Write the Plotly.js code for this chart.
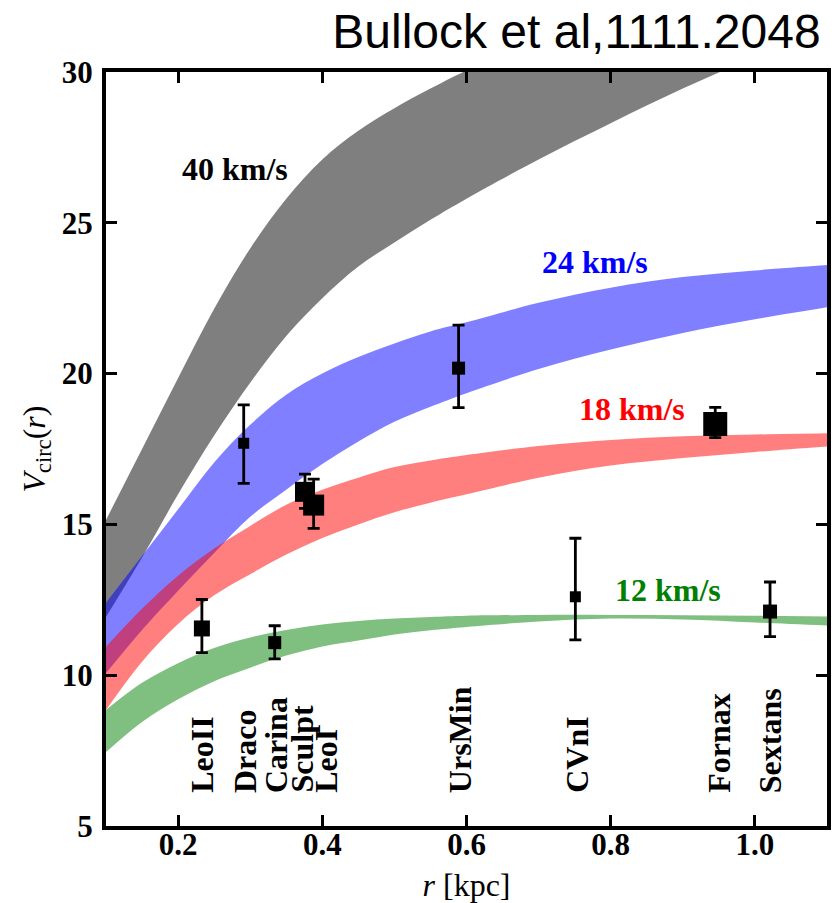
<!DOCTYPE html>
<html>
<head>
<meta charset="utf-8">
<script src="https://cdn.plot.ly/plotly-3.0.1.min.js"></script>
<style>html,body{margin:0;padding:0;background:#fff;}</style>
</head>
<body>
<div id="chart" style="width:834px;height:903px;"></div>
<script>
// radius grid for the bands [kpc]
const rGrid = [0.1, 0.15, 0.2, 0.25, 0.3, 0.35, 0.4, 0.45, 0.5, 0.55, 0.6, 0.7, 0.8, 0.9, 1.0, 1.1];

// 40 km/s band (grey)
const grayLower = [11.93, 13.9, 16.0, 17.95, 19.7, 21.25, 22.5, 23.55, 24.35, 25.1, 25.8, 27.1, 28.3, 29.45, 30.5, 31.5];
const grayUpper = [15.15, 17.5, 19.85, 22.15, 24.15, 25.8, 27.1, 28.05, 28.8, 29.45, 30.05, 31.1, 32.1, 33.0, 33.8, 34.5];
// 24 km/s band (blue)
const blueLower = [10.07, 11.5, 12.8, 14.05, 15.25, 16.15, 17.0, 17.75, 18.4, 18.9, 19.35, 20.15, 20.8, 21.35, 21.8, 22.2];
const blueUpper = [12.4, 13.95, 15.5, 17.05, 18.3, 19.3, 20.0, 20.55, 21.0, 21.4, 21.7, 22.35, 22.85, 23.2, 23.42, 23.6];
// 18 km/s band (red)
const redLower = [8.85, 10.45, 11.7, 12.65, 13.35, 14.0, 14.55, 15.0, 15.4, 15.72, 16.0, 16.55, 16.95, 17.2, 17.4, 17.58];
const redUpper = [10.94, 12.2, 13.3, 14.2, 14.95, 15.65, 16.15, 16.55, 16.9, 17.12, 17.3, 17.6, 17.8, 17.92, 17.98, 18.02];
// 12 km/s band (green)
const greenLower = [7.45, 8.45, 9.2, 9.8, 10.25, 10.65, 10.95, 11.15, 11.35, 11.49, 11.6, 11.78, 11.88, 11.85, 11.75, 11.65];
const greenUpper = [8.85, 9.75, 10.4, 10.9, 11.25, 11.5, 11.68, 11.8, 11.88, 11.93, 11.97, 12.0, 12.0, 11.99, 11.97, 11.95];

const bandLabels = ['40 km/s', '24 km/s', '18 km/s', '12 km/s'];
const bandLabelR = [0.279, 0.778, 0.829, 0.879];
const bandLabelV = [26.77, 23.7, 18.84, 12.82];
const bandLabelColors = ['#000000', '#0000ff', '#ff0000', '#008000'];

// dwarf spheroidals
const galaxies = ['LeoII', 'Draco', 'Carina', 'Sculpt', 'LeoI', 'UrsMin', 'CVnI', 'Fornax', 'Sextans'];
const rHalf = [0.233, 0.291, 0.334, 0.376, 0.388, 0.589, 0.751, 0.945, 1.021];
const vCirc = [11.55, 17.69, 11.08, 16.08, 15.64, 20.18, 12.6, 18.33, 12.11];
const errPlus = [0.96, 1.27, 0.56, 0.59, 0.86, 1.43, 1.94, 0.55, 0.98];
const errMinus = [0.80, 1.33, 0.54, 0.55, 0.77, 1.31, 1.43, 0.45, 0.83];
const markerSizes = [16, 11, 13, 20, 21, 13, 11, 24, 14];
const galaxyLabelR = [0.233, 0.293, 0.336, 0.372, 0.405, 0.592, 0.753, 0.95, 1.022];
const galaxyLabelV = 6.03;

const xTicks = [0.2, 0.4, 0.6, 0.8, 1.0];
const xTickText = ['0.2', '0.4', '0.6', '0.8', '1.0'];
const yTicks = [5, 10, 15, 20, 25, 30];

function band(lower, upper, color) {
  return [
    {x: rGrid, y: lower, mode: 'lines', line: {width: 0, shape: 'spline', smoothing: 1}, hoverinfo: 'skip', showlegend: false},
    {x: rGrid, y: upper, mode: 'lines', line: {width: 0, shape: 'spline', smoothing: 1}, fill: 'tonexty', fillcolor: color, hoverinfo: 'skip', showlegend: false}
  ];
}

const data = [].concat(
  band(grayLower, grayUpper, 'rgba(0,0,0,0.5)'),
  band(blueLower, blueUpper, 'rgba(0,0,255,0.5)'),
  band(redLower, redUpper, 'rgba(255,0,0,0.5)'),
  band(greenLower, greenUpper, 'rgba(0,128,0,0.5)'),
  [{
    x: rHalf, y: vCirc, text: galaxies, mode: 'markers', showlegend: false,
    marker: {symbol: 'square', color: '#000', opacity: 1, size: markerSizes, line: {width: 0}},
    error_y: {type: 'data', symmetric: false, array: errPlus, arrayminus: errMinus, color: '#000', thickness: 2.8, width: 6}
  }]
);

const serif = 'Liberation Serif, Times New Roman, serif';
const annotations = [];
bandLabels.forEach((t, i) => annotations.push({
  x: bandLabelR[i], y: bandLabelV[i], xref: 'x', yref: 'y', text: t, showarrow: false,
  font: {family: serif, size: 32, weight: 700, color: bandLabelColors[i]}
}));
galaxies.forEach((g, i) => annotations.push({
  x: galaxyLabelR[i], y: galaxyLabelV, xref: 'x', yref: 'y', text: g, showarrow: false,
  textangle: -90, yanchor: 'bottom', xanchor: 'center',
  font: {family: serif, size: 32, weight: 700, color: '#000'}
}));

const axisCommon = {
  showline: true, linewidth: 4, linecolor: '#000', mirror: 'ticks',
  ticks: 'inside', ticklen: 11, tickwidth: 3, tickcolor: '#000',
  showgrid: false, zeroline: false,
  tickfont: {family: serif, size: 31, weight: 700, color: '#000'}
};

const layout = {
  width: 834, height: 903,
  paper_bgcolor: '#fff', plot_bgcolor: '#fff',
  margin: {l: 106, r: 7, t: 72, b: 77},
  title: {
    text: 'Bullock et al,1111.2048',
    font: {family: 'Liberation Sans, Arial, sans-serif', size: 48, color: '#000'},
    xref: 'container', x: 0.984, xanchor: 'right',
    yref: 'container', y: 0.966, yanchor: 'middle'
  },
  xaxis: Object.assign({}, axisCommon, {
    range: [0.1, 1.1], tickvals: xTicks, ticktext: xTickText,
    ticklabelstandoff: -12,
    title: {text: '<i>r</i> [kpc]', font: {family: serif, size: 32, color: '#000'}, standoff: 20}
  }),
  yaxis: Object.assign({}, axisCommon, {
    range: [5, 30], tickvals: yTicks,
    ticklabelstandoff: 3,
    title: {text: '<i>V</i><sub>circ</sub>(<i>r</i>)', font: {family: serif, size: 32, color: '#000'}, standoff: 8}
  }),
  annotations: annotations,
  showlegend: false
};

Plotly.newPlot('chart', data, layout, {displayModeBar: false, staticPlot: true});
</script>
</body>
</html>
